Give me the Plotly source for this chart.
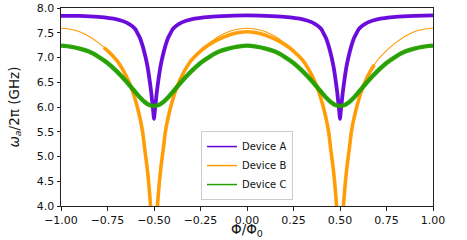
import plotly.graph_objects as go

# ---- Device A (purple) ----
A_x = [-1.0, -0.9, -0.8, -0.7, -0.65, -0.62, -0.6, -0.59, -0.575, -0.56, -0.545, -0.535, -0.525,
       -0.515, -0.51, -0.505, -0.5, -0.495, -0.49, -0.485, -0.475, -0.465, -0.455, -0.44, -0.425,
       -0.41, -0.4, -0.38, -0.35, -0.3, -0.2, -0.1, 0.0, 0.1, 0.2, 0.3, 0.35, 0.38, 0.4, 0.41,
       0.425, 0.44, 0.455, 0.465, 0.475, 0.485, 0.49, 0.495, 0.5, 0.505, 0.51, 0.515, 0.525,
       0.535, 0.545, 0.56, 0.575, 0.59, 0.6, 0.62, 0.65, 0.7, 0.8, 0.9, 1.0]
A_y = [7.84, 7.84, 7.82, 7.77, 7.71, 7.64, 7.57, 7.50, 7.39, 7.22, 7.00, 6.82, 6.58,
       6.30, 6.12, 5.95, 5.76, 5.95, 6.12, 6.30, 6.58, 6.82, 7.00, 7.22, 7.39,
       7.50, 7.57, 7.64, 7.71, 7.77, 7.82, 7.84, 7.85, 7.84, 7.82, 7.77, 7.71, 7.64, 7.57, 7.50,
       7.39, 7.22, 7.00, 6.82, 6.58, 6.30, 6.12, 5.95, 5.76, 5.95, 6.12, 6.30, 6.58,
       6.82, 7.00, 7.22, 7.39, 7.50, 7.57, 7.64, 7.71, 7.77, 7.82, 7.84, 7.85]

# ---- Device B (orange): model curve ----
B_fit_x = [-1.0, -0.95, -0.9, -0.85, -0.8, -0.75, -0.7, -0.675, -0.65, -0.625, -0.6, -0.575,
           -0.56, -0.55, -0.54, -0.53, -0.52, -0.515, None, -0.485, -0.48, -0.47, -0.46, -0.45,
           -0.44, -0.425, -0.4, -0.375, -0.35, -0.325, -0.3, -0.25, -0.2, -0.15, -0.1, -0.05, 0.0,
           0.05, 0.1, 0.15, 0.2, 0.25, 0.3, 0.325, 0.35, 0.375, 0.4, 0.425, 0.44, 0.45, 0.46,
           0.47, 0.48, 0.485, None, 0.515, 0.52, 0.53, 0.54, 0.55, 0.56, 0.575, 0.6, 0.625, 0.65,
           0.675, 0.7, 0.75, 0.8, 0.85, 0.9, 0.95, 1.0]
B_fit_y = [7.59, 7.57, 7.52, 7.43, 7.30, 7.14, 6.94, 6.80, 6.63, 6.42, 6.14, 5.77,
           5.47, 5.15, 4.87, 4.53, 4.08, 3.75, None, 3.75, 4.08, 4.53, 4.87, 5.15,
           5.47, 5.77, 6.14, 6.42, 6.63, 6.80, 6.94, 7.14, 7.30, 7.43, 7.52, 7.57, 7.59,
           7.57, 7.52, 7.43, 7.30, 7.14, 6.94, 6.80, 6.63, 6.42, 6.14, 5.77, 5.47, 5.15, 4.87,
           4.53, 4.08, 3.75, None, 3.75, 4.08, 4.53, 4.87, 5.15, 5.47, 5.77, 6.14, 6.42, 6.63,
           6.80, 6.94, 7.14, 7.30, 7.43, 7.52, 7.57, 7.59]

# ---- Device B (orange): measured ----
B_meas_x = [-0.77, -0.75, -0.7, -0.675, -0.65, -0.625, -0.6, -0.575, -0.56, -0.55, -0.54, -0.53,
            -0.52, -0.515, None, -0.485, -0.48, -0.47, -0.46, -0.45, -0.44, -0.425, -0.4, -0.375,
            -0.35, -0.325, -0.3, -0.25, -0.2, -0.15, -0.1, -0.05, 0.0, 0.05, 0.1, 0.15, 0.2, 0.25,
            0.3, 0.325, 0.35, 0.375, 0.4, 0.425, 0.44, 0.45, 0.46, 0.47, 0.48, 0.485, None,
            0.515, 0.52, 0.53, 0.54, 0.55, 0.56, 0.575, 0.6, 0.625, 0.65, 0.675, 0.685]
B_meas_y = [7.20, 7.14, 6.94, 6.80, 6.63, 6.42, 6.14, 5.77, 5.47, 5.15, 4.87, 4.53,
            4.08, 3.75, None, 3.75, 4.08, 4.53, 4.87, 5.15, 5.47, 5.77, 6.14, 6.42,
            6.63, 6.80, 6.94, 7.13, 7.27, 7.37, 7.45, 7.50, 7.52, 7.50, 7.45, 7.37, 7.27, 7.13,
            6.94, 6.80, 6.63, 6.42, 6.14, 5.77, 5.47, 5.15, 4.87, 4.53, 4.08, 3.75, None,
            3.75, 4.08, 4.53, 4.87, 5.15, 5.47, 5.77, 6.14, 6.42, 6.63, 6.80, 6.85]

# ---- Device C (green) ----
C_x = [-1.0, -0.95, -0.9, -0.85, -0.8, -0.75, -0.7, -0.65, -0.6, -0.575, -0.55, -0.525, -0.5,
       -0.475, -0.45, -0.425, -0.4, -0.35, -0.3, -0.25, -0.2, -0.15, -0.1, -0.05, 0.0,
       0.05, 0.1, 0.15, 0.2, 0.25, 0.3, 0.35, 0.4, 0.425, 0.45, 0.475, 0.5,
       0.525, 0.55, 0.575, 0.6, 0.65, 0.7, 0.75, 0.8, 0.85, 0.9, 0.95, 1.0]
C_y = [7.24, 7.22, 7.18, 7.12, 7.02, 6.89, 6.72, 6.52, 6.30, 6.19, 6.10, 6.04, 6.02,
       6.04, 6.10, 6.19, 6.30, 6.52, 6.72, 6.89, 7.02, 7.12, 7.18, 7.22, 7.24,
       7.22, 7.18, 7.12, 7.02, 6.89, 6.72, 6.52, 6.30, 6.19, 6.10, 6.04, 6.02,
       6.04, 6.10, 6.19, 6.30, 6.52, 6.72, 6.89, 7.02, 7.12, 7.18, 7.22, 7.24]

names = ["Device A", "Device B", "Device C"]
colors = ["#6400dc", "#ff9a00", "#24a000"]

x_ticks = [-1.0, -0.75, -0.5, -0.25, 0.0, 0.25, 0.5, 0.75, 1.0]
y_ticks = [4.0, 4.5, 5.0, 5.5, 6.0, 6.5, 7.0, 7.5, 8.0]

fig = go.Figure()
shape = dict(shape="spline", smoothing=0.5)

fig.add_trace(go.Scatter(x=A_x, y=A_y, mode="lines", showlegend=False,
                         line=dict(color=colors[0], width=3.8, **shape), opacity=0.95))
fig.add_trace(go.Scatter(x=B_fit_x, y=B_fit_y, mode="lines", showlegend=False,
                         line=dict(color=colors[1], width=1.1, **shape), connectgaps=False))
fig.add_trace(go.Scatter(x=B_meas_x, y=B_meas_y, mode="lines", showlegend=False,
                         line=dict(color=colors[1], width=3.6, **shape), connectgaps=False,
                         opacity=0.95))
fig.add_trace(go.Scatter(x=C_x, y=C_y, mode="lines", showlegend=False,
                         line=dict(color=colors[2], width=4.4, **shape), opacity=0.95))
fig.add_trace(go.Scatter(x=C_x, y=C_y, mode="lines", showlegend=False,
                         line=dict(color=colors[2], width=1.1, **shape)))

for n, c in zip(names, colors):
    fig.add_trace(go.Scatter(x=[None], y=[None], mode="lines", name=n,
                             line=dict(color=c, width=1.5)))

axis_common = dict(showgrid=False, zeroline=False, showline=True, linecolor="#222",
                   linewidth=1, mirror=True, ticks="outside", ticklen=3.5, tickwidth=1,
                   tickcolor="#222", automargin=False,
                   tickfont=dict(family="DejaVu Sans", size=11, color="#111"))

fig.update_layout(
    width=467, height=240,
    margin=dict(l=61, r=34, t=8, b=34),
    paper_bgcolor="white", plot_bgcolor="white",
    font=dict(family="DejaVu Sans", color="#111"),
    xaxis=dict(range=[-1, 1], tickvals=x_ticks,
               ticktext=[f"{v:.2f}".replace("-", "\u2212") for v in x_ticks],
               **axis_common),
    yaxis=dict(range=[4, 8], tickvals=y_ticks,
               ticktext=[f"{v:.1f}" for v in y_ticks],
               **axis_common),
    legend=dict(x=0.5, y=0.03, xanchor="center", yanchor="bottom",
                bgcolor="rgba(255,255,255,0.85)", bordercolor="#cccccc", borderwidth=1,
                font=dict(family="DejaVu Sans", size=10), tracegroupgap=0,
                itemwidth=30),
    showlegend=True,
    annotations=[
        dict(text="Φ/Φ<sub>0</sub>", xref="paper", yref="paper", x=0.5, y=-0.122,
             xanchor="center", yanchor="middle", showarrow=False,
             font=dict(family="DejaVu Sans", size=13.5, color="#111")),
        dict(text="<i>ω</i><sub><i>a</i></sub>/2π (GHz)", xref="paper", yref="paper",
             x=-0.125, y=0.5, xanchor="center", yanchor="middle", textangle=-90,
             showarrow=False, font=dict(family="DejaVu Sans", size=13.5, color="#111")),
    ],
)

fig.write_html("out.html", config={"displayModeBar": False},
               post_script="document.body.style.margin='0';")
